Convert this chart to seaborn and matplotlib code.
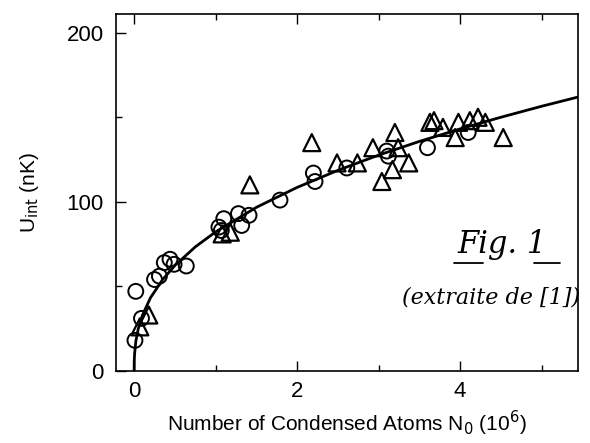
import matplotlib
matplotlib.use("Agg")
import matplotlib.pyplot as plt
import seaborn as sns
import pandas as pd

# Open circles
circ_x = [0.01, 0.02, 0.09, 0.25, 0.31, 0.37, 0.44, 0.49, 0.64, 1.04, 1.07, 1.10,
          1.28, 1.32, 1.41, 1.79, 2.20, 2.22, 2.61, 3.10, 3.12, 3.60, 4.10]
circ_y = [18, 47, 31, 54, 56, 64, 66, 63, 62, 85, 83, 90,
          93, 86, 92, 101, 117, 112, 120, 130, 127, 132, 141]

# Open triangles
tri_x = [0.07, 0.18, 1.08, 1.18, 1.42, 2.18, 2.49, 2.74, 2.93, 3.04, 3.17, 3.20,
         3.24, 3.37, 3.63, 3.68, 3.79, 3.94, 3.98, 4.12, 4.22, 4.31, 4.53]
tri_y = [26, 33, 81, 82, 110, 135, 123, 123, 132, 112, 119, 141,
         132, 123, 147, 148, 144, 138, 147, 148, 150, 147, 138]

# Fitted curve
fit_x = [0.0, 0.001, 0.005, 0.02, 0.05, 0.1, 0.2, 0.35, 0.5, 0.75, 1.0, 1.5,
         2.0, 2.5, 3.0, 3.5, 4.0, 4.5, 5.0, 5.45]
fit_y = [0.0, 5.2, 9.9, 17.2, 24.8, 32.7, 43.2, 54.0, 62.3, 73.3, 82.2, 96.7,
         108.5, 118.6, 127.6, 135.7, 143.1, 150.0, 156.5, 162.0]

x_ticks = [0, 2, 4]
x_minor = [1, 3, 5]
y_ticks = [0, 100, 200]
y_minor = [50, 150]

sns.set_theme(style="ticks", rc={"text.color": "black", "axes.labelcolor": "black",
                                 "xtick.color": "black", "ytick.color": "black",
                                 "axes.edgecolor": "black"})
plt.rcParams['font.family'] = ['Liberation Sans', 'DejaVu Sans']

fig = plt.figure(figsize=(5.9, 4.43), dpi=100)
ax = fig.add_axes([0.197, 0.163, 0.783, 0.805])

df_fit = pd.DataFrame({"x": fit_x, "y": fit_y})
df_c = pd.DataFrame({"x": circ_x, "y": circ_y})
df_t = pd.DataFrame({"x": tri_x, "y": tri_y})

sns.lineplot(data=df_fit, x="x", y="y", ax=ax, color="black", linewidth=2.0,
             sort=False, zorder=2)
sns.scatterplot(data=df_c, x="x", y="y", ax=ax, marker="o", s=115,
                facecolor="none", edgecolor="black", linewidth=1.4, zorder=3)
sns.scatterplot(data=df_t, x="x", y="y", ax=ax, marker="^", s=150,
                facecolor="none", edgecolor="black", linewidth=1.6, zorder=3)

ax.set_xlim(-0.22, 5.45)
ax.set_ylim(0, 211)
ax.set_xticks(x_ticks)
ax.set_xticks(x_minor, minor=True)
ax.set_yticks(y_ticks)
ax.set_yticks(y_minor, minor=True)
ax.tick_params(which="both", direction="in", labelsize=16, color="black",
               labelcolor="black", top=True, right=False)
ax.tick_params(axis="y", which="both", pad=9)
ax.tick_params(axis="x", which="both", pad=7)
ax.tick_params(which="major", length=7, width=1)
ax.tick_params(which="minor", length=4, width=1)
for sp in ax.spines.values():
    sp.set_visible(True)
    sp.set_color("black")
    sp.set_linewidth(1.2)

ax.set_xlabel(r"Number of Condensed Atoms N$_0$ (10$^6$)", fontsize=15, labelpad=5,
              color="black")
ax.set_ylabel(r"U$_{\rm int}$ (nK)", fontsize=15, labelpad=18, color="black")

ax.text(0.835, 0.355, "Fig. 1", transform=ax.transAxes, ha="center", va="center",
        family=["DejaVu Serif"], style="italic", fontsize=22, color="black")
ax.text(0.812, 0.205, "(extraite de [1])", transform=ax.transAxes, ha="center",
        va="center", family=["DejaVu Serif"], style="italic", fontsize=16,
        color="black")
ax.plot([0.732, 0.795], [0.303, 0.303], transform=ax.transAxes, color="black", lw=1.3)
ax.plot([0.905, 0.96], [0.303, 0.303], transform=ax.transAxes, color="black", lw=1.3)

fig.savefig("out.png", dpi=100)
